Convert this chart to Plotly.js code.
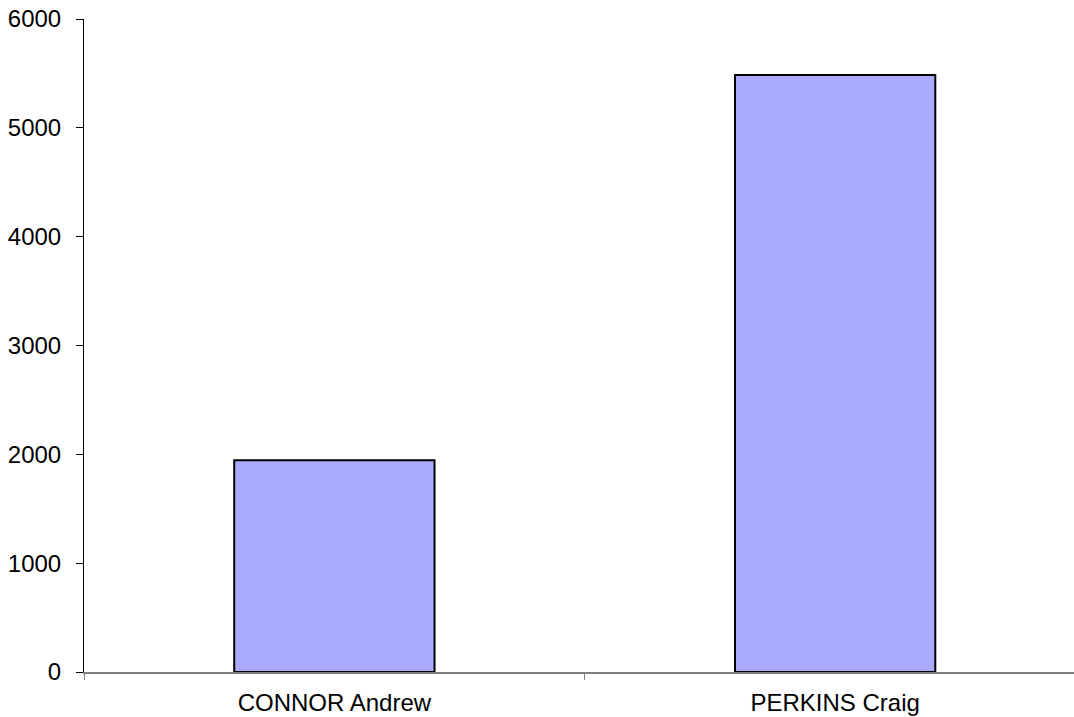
<!DOCTYPE html>
<html>
<head>
<meta charset="utf-8">
<script src="https://cdn.plot.ly/plotly-3.0.1.min.js"></script>
<style>html,body{margin:0;padding:0;background:#fff;}#chart{width:1074px;height:717px;}</style>
</head>
<body>
<div id="chart"></div>
<script>
const categories = ["CONNOR Andrew", "PERKINS Craig"];
const values = [1945, 5485];
const yTickVals = [0, 1000, 2000, 3000, 4000, 5000, 6000];

const trace = {
  type: 'bar',
  x: categories,
  y: values,
  width: 0.4,
  marker: {color: '#AAAAFF', line: {color: '#000000', width: 2}},
  hoverinfo: 'none'
};

const layout = {
  width: 1074,
  height: 717,
  margin: {l: 84, r: 0, t: 19, b: 45, pad: 0},
  paper_bgcolor: '#ffffff',
  plot_bgcolor: '#ffffff',
  showlegend: false,
  font: {family: 'Liberation Sans, Arial, sans-serif', size: 24, color: '#000000'},
  bargap: 0.6,
  xaxis: {
    type: 'category',
    range: [-0.5, 1.477],
    showgrid: false,
    zeroline: false,
    showline: true,
    linecolor: '#808080',
    linewidth: 1.5,
    ticks: 'outside',
    tickson: 'boundaries',
    ticklen: 6,
    tickcolor: '#808080',
    tickwidth: 1,
    ticklabelstandoff: 9,
    layer: 'below traces',
    tickfont: {size: 24, color: '#000000'},
    fixedrange: true
  },
  yaxis: {
    range: [0, 6000],
    tickvals: yTickVals,
    ticktext: yTickVals.map(String),
    showgrid: false,
    zeroline: false,
    showline: true,
    linecolor: '#000000',
    linewidth: 1,
    ticks: 'outside',
    ticklen: 7,
    tickcolor: '#000000',
    tickwidth: 1,
    ticklabelstandoff: 10,
    layer: 'below traces',
    tickfont: {size: 24, color: '#000000'},
    fixedrange: true
  }
};

Plotly.newPlot('chart', [trace], layout, {displayModeBar: false, staticPlot: true});
</script>
</body>
</html>
